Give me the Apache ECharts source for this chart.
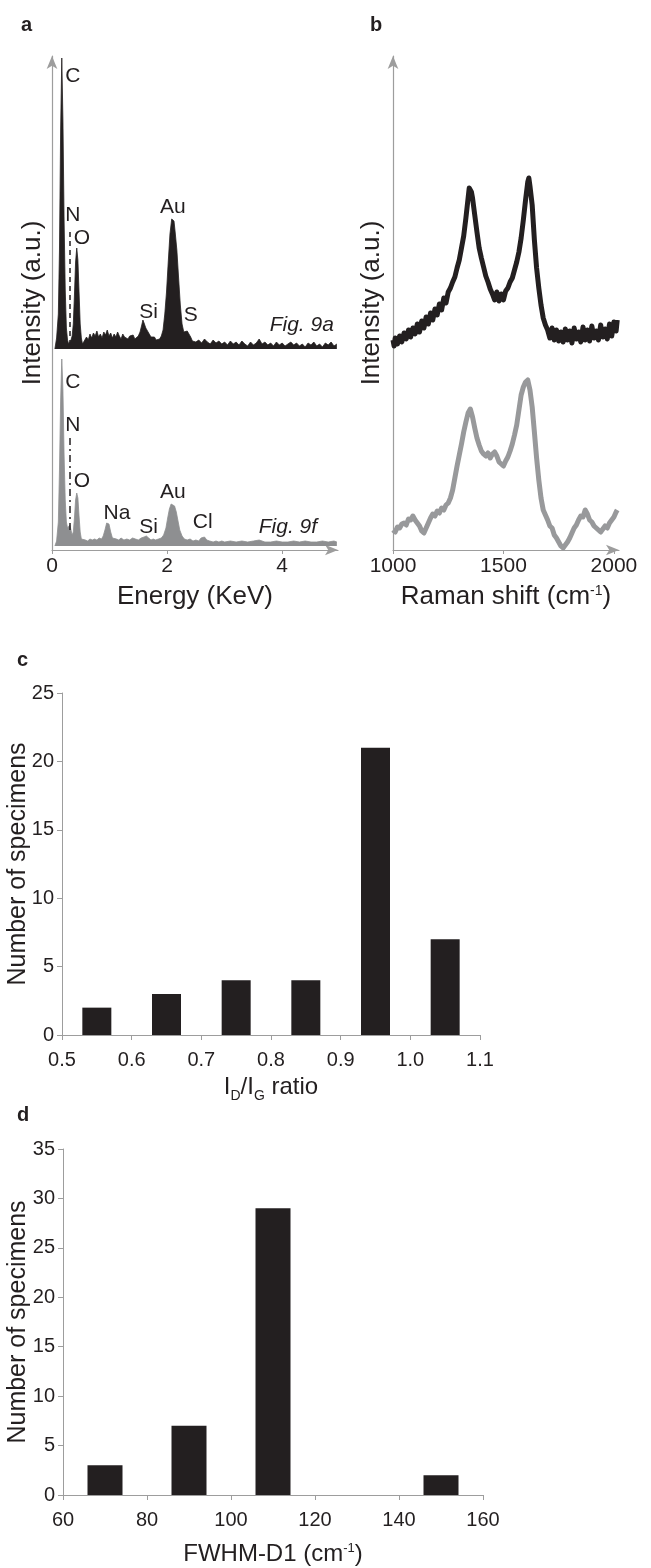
<!DOCTYPE html>
<html>
<head>
<meta charset="utf-8">
<script src="https://cdn.jsdelivr.net/npm/echarts@6.0.0/dist/echarts.min.js"></script>
<style>
  html, body { margin: 0; padding: 0; background: #fff; }
  #chart { width: 651px; height: 1568px; }
</style>
</head>
<body>
<div id="chart"></div>
<script>
// panel a - EDS spectra, [energy keV, intensity] (intensity in arbitrary units)
const edsTop = [
  [0.05,201],[0.08,212],[0.11,236],[0.13,300],[0.15,420],[0.17,492],[0.19,430],[0.21,330],[0.23,260],[0.25,222],
  [0.27,210],[0.29,206],[0.31,207],[0.33,210],[0.35,214],[0.37,226],[0.39,255],[0.41,288],[0.43,302],[0.45,290],
  [0.47,258],[0.49,226],[0.51,212],[0.53,206],[0.56,205],[0.6,213],[0.63,210],[0.66,216],[0.69,212],[0.72,217],
  [0.75,214],[0.78,219],[0.81,213],[0.84,216],[0.87,212],[0.9,218],[0.93,215],[0.96,220],[0.99,214],[1.02,217],
  [1.05,212],[1.08,216],[1.11,213],[1.14,218],[1.17,214],[1.2,211],[1.23,216],[1.26,213],[1.29,215],[1.32,211],
  [1.35,214],[1.38,212],[1.41,215],[1.44,211],[1.47,213],[1.5,214],[1.53,218],[1.56,225],[1.58,230],[1.6,227],
  [1.63,222],[1.66,220],[1.69,216],[1.72,213],[1.75,211],[1.78,213],[1.81,210],[1.84,212],[1.87,211],[1.9,214],
  [1.93,220],[1.96,236],[1.99,258],[2.02,288],[2.05,316],[2.08,331],[2.1,333],[2.12,329],[2.14,318],[2.17,300],
  [2.2,272],[2.23,245],[2.26,226],[2.29,218],[2.32,216],[2.35,219],[2.38,217],[2.41,213],[2.44,209],[2.47,211],
  [2.5,208],[2.55,210],[2.6,207],[2.65,211],[2.7,208],[2.75,206],[2.8,210],[2.85,207],[2.9,209],[2.95,206],
  [3.0,208],[3.05,205],[3.1,209],[3.15,206],[3.2,208],[3.25,205],[3.3,209],[3.35,206],[3.4,204],[3.45,208],
  [3.5,205],[3.55,207],[3.6,211],[3.65,206],[3.7,208],[3.75,205],[3.8,207],[3.85,204],[3.9,208],[3.95,205],
  [4.0,207],[4.05,204],[4.1,206],[4.15,208],[4.2,205],[4.25,207],[4.3,204],[4.35,206],[4.4,203],[4.45,207],
  [4.5,205],[4.55,208],[4.6,204],[4.65,206],[4.7,203],[4.75,207],[4.8,205],[4.85,208],[4.9,204],[4.95,206]
];
const edsBottom = [
  [0.05,4],[0.08,9],[0.11,28],[0.13,80],[0.15,150],[0.17,191],[0.19,160],[0.21,95],[0.23,50],[0.25,28],
  [0.27,22],[0.29,24],[0.31,25],[0.33,20],[0.35,15],[0.37,18],[0.39,32],[0.41,50],[0.43,57],[0.45,52],
  [0.47,34],[0.49,18],[0.51,11],[0.54,9],[0.58,10],[0.62,9],[0.66,11],[0.7,10],[0.74,11],[0.78,10],
  [0.82,12],[0.86,11],[0.89,14],[0.92,20],[0.95,27],[0.97,29],[0.99,26],[1.02,18],[1.05,12],[1.08,10],
  [1.12,11],[1.16,10],[1.2,12],[1.25,10],[1.3,11],[1.35,10],[1.4,12],[1.45,11],[1.5,10],[1.55,12],
  [1.6,13],[1.64,14],[1.68,12],[1.72,10],[1.76,11],[1.8,10],[1.85,11],[1.9,12],[1.94,15],[1.98,22],
  [2.01,32],[2.04,41],[2.07,46],[2.1,47],[2.13,44],[2.16,38],[2.19,29],[2.22,20],[2.26,14],[2.3,11],
  [2.35,10],[2.4,11],[2.45,9],[2.5,10],[2.55,9],[2.59,12],[2.62,14],[2.65,13],[2.69,10],[2.74,9],
  [2.8,8],[2.85,9],[2.9,8],[2.95,9],[3.0,8],[3.1,9],[3.2,8],[3.3,9],[3.4,8],[3.5,9],
  [3.6,10],[3.65,9],[3.7,8],[3.8,8],[3.9,9],[4.0,8],[4.1,8],[4.2,9],[4.3,8],[4.4,9],
  [4.5,8],[4.6,8],[4.7,9],[4.8,8],[4.9,9],[4.95,8]
];
const edsTopBase = 201;
const edsBottomBase = 4;
// peak labels: [text, keV, intensity]
const edsTopLabels = [["C",0.36,474],["N",0.36,335],["O",0.52,312],["Si",1.68,238],["Au",2.1,343],["S",2.41,235]];
const edsBottomLabels = [["C",0.36,168],["N",0.36,125],["O",0.52,69],["Na",1.13,37],["Si",1.68,23],["Au",2.1,58],["Cl",2.62,28]];
const edsFigTags = [["Fig. 9a",4.34,225],["Fig. 9f",4.1,23]];
// N line marker: [keV, from, to]
const nLineTop = [0.3, 205, 322];
const nLineBottom = [0.3, 20, 113];

// panel b - Raman spectra, [shift cm-1, intensity]
const ramanTop = [
  [1000,210],[1005,204],[1010,212],[1020,206],[1030,214],[1040,208],[1050,217],[1060,211],[1070,220],[1080,213],
  [1090,222],[1100,216],[1110,226],[1120,218],[1130,229],[1140,222],[1150,233],[1160,226],[1170,237],[1180,230],
  [1190,241],[1200,235],[1210,246],[1220,240],[1230,252],[1240,247],[1250,258],[1260,262],[1270,268],[1280,273],
  [1290,282],[1300,290],[1310,302],[1320,314],[1330,332],[1340,352],[1345,362],[1350,364],[1355,358],[1360,352],
  [1370,335],[1380,318],[1390,302],[1400,292],[1410,283],[1420,274],[1430,268],[1440,261],[1450,256],[1460,250],
  [1470,258],[1480,249],[1490,256],[1500,250],[1510,259],[1520,262],[1530,268],[1540,272],[1550,280],[1560,288],
  [1570,298],[1580,312],[1590,330],[1600,350],[1610,368],[1615,372],[1620,364],[1630,345],[1640,310],[1650,282],
  [1660,262],[1670,245],[1680,232],[1690,225],[1700,220],[1710,212],[1720,222],[1730,210],[1740,220],[1750,209],
  [1760,218],[1770,208],[1780,221],[1790,210],[1800,219],[1810,207],[1820,222],[1830,211],[1840,218],[1850,208],
  [1860,223],[1870,210],[1880,220],[1890,209],[1900,224],[1910,212],[1920,219],[1930,210],[1940,225],[1950,213],
  [1960,221],[1970,211],[1980,226],[1990,214],[2000,228],[2010,219],[2015,230]
];
const ramanBottom = [
  [1000,20],[1010,18],[1020,23],[1030,22],[1040,26],[1050,27],[1060,25],[1070,31],[1080,30],[1090,34],
  [1100,30],[1110,27],[1120,24],[1130,19],[1140,17],[1150,22],[1160,27],[1170,32],[1180,36],[1190,34],
  [1200,39],[1210,37],[1220,42],[1230,40],[1240,45],[1250,47],[1260,52],[1270,60],[1280,72],[1290,84],
  [1300,95],[1310,106],[1320,118],[1330,128],[1340,137],[1350,141],[1360,133],[1370,122],[1380,112],[1390,105],
  [1400,99],[1410,96],[1420,94],[1430,97],[1440,92],[1450,96],[1460,98],[1470,94],[1480,88],[1490,86],
  [1500,84],[1510,89],[1520,93],[1530,99],[1540,106],[1550,115],[1560,125],[1570,140],[1580,155],[1590,163],
  [1600,168],[1610,170],[1620,160],[1630,143],[1640,118],[1650,92],[1660,70],[1670,52],[1680,40],[1690,35],
  [1700,30],[1710,24],[1720,22],[1730,15],[1740,12],[1750,8],[1760,4],[1770,2],[1780,5],[1790,8],
  [1800,12],[1810,17],[1820,22],[1830,25],[1840,30],[1850,34],[1860,33],[1870,40],[1880,36],[1890,30],
  [1900,28],[1910,24],[1920,22],[1930,20],[1940,18],[1950,21],[1960,24],[1970,22],[1980,27],[1990,30],
  [2000,33],[2010,38],[2015,40]
];

// panel c - ID/IG ratio histogram
const ratioBins = [0.55, 0.65, 0.75, 0.85, 0.95, 1.05];
const ratioCounts = [2, 3, 4, 4, 21, 7];

// panel d - FWHM-D1 histogram
const fwhmBins = [70, 90, 110, 150];
const fwhmCounts = [3, 7, 29, 2];

const ink = "#231f20";
const axisGray = "#9d9d9d";
const font = "'Liberation Sans', Arial, sans-serif";

function labelItems(list, extra) {
  return list.map(function (l) {
    return Object.assign({ name: l[0], value: [l[1], l[2]] }, extra || {});
  });
}

var dom = document.getElementById("chart");
var myChart = echarts.init(dom, null, { renderer: "canvas" });

var arrowAxisLine = {
  show: true,
  symbol: ["none", "arrow"],
  symbolSize: [8, 13],
  lineStyle: { color: axisGray, width: 1.2 },
};
var letterStyle = { fontSize: 20, fontWeight: "bold", color: ink, fontFamily: font };

var option = {
  animation: false,
  backgroundColor: "#fff",
  textStyle: { fontFamily: font, color: ink },
  title: [
    { text: "a", left: 16, top: 10, textStyle: letterStyle },
    { text: "b", left: 365, top: 10, textStyle: letterStyle },
    { text: "c", left: 12, top: 645, textStyle: letterStyle },
    { text: "d", left: 12, top: 1100, textStyle: letterStyle },
  ],
  grid: [
    { left: 52, top: 56, width: 286, height: 494, containLabel: false, outerBoundsMode: "none" },
    { left: 393, top: 56, width: 226, height: 494, containLabel: false, outerBoundsMode: "none" },
    { left: 62, top: 693, width: 418, height: 342, containLabel: false, outerBoundsMode: "none" },
    { left: 63, top: 1149, width: 420, height: 346, containLabel: false, outerBoundsMode: "none" },
  ],
  xAxis: [
    {
      gridIndex: 0, type: "value", min: 0, max: 4.97, interval: 2,
      axisLine: arrowAxisLine,
      axisTick: { show: true, length: 4, lineStyle: { color: axisGray } },
      axisLabel: { show: true, showMaxLabel: false, fontSize: 21, color: ink, margin: 6, fontFamily: font },
      splitLine: { show: false },
      name: "Energy (KeV)", nameLocation: "middle", nameGap: 34, nameMoveOverlap: false,
      nameTextStyle: { fontSize: 26, color: ink, fontFamily: font },
    },
    {
      gridIndex: 1, type: "value", min: 1000, max: 2023, interval: 500,
      axisLine: arrowAxisLine,
      axisTick: { show: true, length: 4, lineStyle: { color: axisGray } },
      axisLabel: {
        show: true, showMaxLabel: false, fontSize: 21, color: ink, margin: 6, fontFamily: font,
        formatter: function (v) { return String(v); },
      },
      splitLine: { show: false },
      name: "{t|Raman shift (cm}{p|-1}{t|)}", nameLocation: "middle", nameGap: 34, nameMoveOverlap: false,
      nameTextStyle: {
        rich: {
          t: { fontSize: 26, color: ink, fontFamily: font },
          p: { fontSize: 14, color: ink, fontFamily: font, verticalAlign: "top" },
        },
      },
    },
    {
      gridIndex: 2, type: "value", min: 0.5, max: 1.1, interval: 0.1,
      axisLine: { show: true, lineStyle: { color: axisGray, width: 1 } },
      axisTick: { show: true, length: 5, lineStyle: { color: axisGray } },
      axisLabel: {
        fontSize: 20, color: ink, margin: 15, fontFamily: font,
        formatter: function (v) { return v.toFixed(1); },
      },
      splitLine: { show: false },
      name: "{i|I}{s|D}{i|/I}{s|G}{i| ratio}", nameLocation: "middle", nameGap: 40, nameMoveOverlap: false,
      nameTextStyle: {
        rich: {
          i: { fontSize: 24, color: ink, fontFamily: font },
          s: { fontSize: 14, color: ink, fontFamily: font, verticalAlign: "bottom", padding: [0, 0, -4, 0] },
        },
      },
    },
    {
      gridIndex: 3, type: "value", min: 60, max: 160, interval: 20,
      axisLine: { show: true, lineStyle: { color: axisGray, width: 1 } },
      axisTick: { show: true, length: 5, lineStyle: { color: axisGray } },
      axisLabel: { fontSize: 20, color: ink, margin: 15, fontFamily: font },
      splitLine: { show: false },
      name: "{t|FWHM-D1 (cm}{p|-1}{t|)}", nameLocation: "middle", nameGap: 47, nameMoveOverlap: false,
      nameTextStyle: {
        rich: {
          t: { fontSize: 24, color: ink, fontFamily: font },
          p: { fontSize: 13, color: ink, fontFamily: font, verticalAlign: "top" },
        },
      },
    },
  ],
  yAxis: [
    {
      gridIndex: 0, type: "value", min: 0, max: 494,
      axisLine: arrowAxisLine, axisTick: { show: false }, axisLabel: { show: false }, splitLine: { show: false },
      name: "Intensity (a.u.)", nameLocation: "middle", nameGap: 6, nameMoveOverlap: false,
      nameTextStyle: { fontSize: 26, color: ink, fontFamily: font },
    },
    {
      gridIndex: 1, type: "value", min: 0, max: 494,
      axisLine: arrowAxisLine, axisTick: { show: false }, axisLabel: { show: false }, splitLine: { show: false },
      name: "Intensity (a.u.)", nameLocation: "middle", nameGap: 8, nameMoveOverlap: false,
      nameTextStyle: { fontSize: 26, color: ink, fontFamily: font },
    },
    {
      gridIndex: 2, type: "value", min: 0, max: 25, interval: 5,
      axisLine: { show: true, lineStyle: { color: axisGray, width: 1 } },
      axisTick: { show: true, length: 5, lineStyle: { color: axisGray } },
      axisLabel: { fontSize: 20, color: ink, margin: 8, fontFamily: font },
      splitLine: { show: false },
      name: "Number of specimens", nameLocation: "middle", nameGap: 31, nameMoveOverlap: false,
      nameTextStyle: { fontSize: 25, color: ink, fontFamily: font },
    },
    {
      gridIndex: 3, type: "value", min: 0, max: 35, interval: 5,
      axisLine: { show: true, lineStyle: { color: axisGray, width: 1 } },
      axisTick: { show: true, length: 5, lineStyle: { color: axisGray } },
      axisLabel: { fontSize: 20, color: ink, margin: 8, fontFamily: font },
      splitLine: { show: false },
      name: "Number of specimens", nameLocation: "middle", nameGap: 32, nameMoveOverlap: false,
      nameTextStyle: { fontSize: 25, color: ink, fontFamily: font },
    },
  ],
  series: [
    {
      name: "Fig. 9a", type: "line", xAxisIndex: 0, yAxisIndex: 0,
      data: edsTop, symbol: "none", silent: true,
      lineStyle: { color: ink, width: 0.8 },
      areaStyle: { color: ink, opacity: 1, origin: edsTopBase },
      markLine: {
        silent: true, symbol: ["none", "none"], label: { show: false },
        lineStyle: { color: ink, width: 1.5, type: [5, 4] },
        data: [[{ coord: [nLineTop[0], nLineTop[1]] }, { coord: [nLineTop[0], nLineTop[2]] }]],
      },
    },
    {
      name: "Fig. 9f", type: "line", xAxisIndex: 0, yAxisIndex: 0,
      data: edsBottom, symbol: "none", silent: true,
      lineStyle: { color: "#8e8f91", width: 0.8 },
      areaStyle: { color: "#8e8f91", opacity: 1, origin: edsBottomBase },
      markLine: {
        silent: true, symbol: ["none", "none"], label: { show: false },
        lineStyle: { color: ink, width: 1.5, type: [7, 4, 2, 4] },
        data: [[{ coord: [nLineBottom[0], nLineBottom[1]] }, { coord: [nLineBottom[0], nLineBottom[2]] }]],
      },
    },
    {
      type: "scatter", xAxisIndex: 0, yAxisIndex: 0, symbolSize: 0, silent: true,
      itemStyle: { opacity: 1 },
      label: { show: true, position: "inside", formatter: "{b}", fontSize: 21, color: ink, fontFamily: font, opacity: 1 },
      data: labelItems(edsTopLabels).concat(labelItems(edsBottomLabels))
        .concat(labelItems(edsFigTags, { label: { fontStyle: "italic" } })),
    },
    {
      type: "line", xAxisIndex: 1, yAxisIndex: 1, data: ramanTop, symbol: "none", silent: true,
      lineStyle: { color: ink, width: 5, join: "round" },
    },
    {
      type: "line", xAxisIndex: 1, yAxisIndex: 1, data: ramanBottom, symbol: "none", silent: true,
      lineStyle: { color: "#98999b", width: 5, join: "round" },
    },
    {
      type: "bar", xAxisIndex: 2, yAxisIndex: 2, barWidth: 29, silent: true,
      itemStyle: { color: ink },
      data: ratioBins.map(function (b, i) { return [b, ratioCounts[i]]; }),
    },
    {
      type: "bar", xAxisIndex: 3, yAxisIndex: 3, barWidth: 35, silent: true,
      itemStyle: { color: ink },
      data: fwhmBins.map(function (b, i) { return [b, fwhmCounts[i]]; }),
    },
  ],
};

if (option && typeof option === "object") {
  myChart.setOption(option);
}

window.addEventListener("resize", myChart.resize);
</script>
</body>
</html>
